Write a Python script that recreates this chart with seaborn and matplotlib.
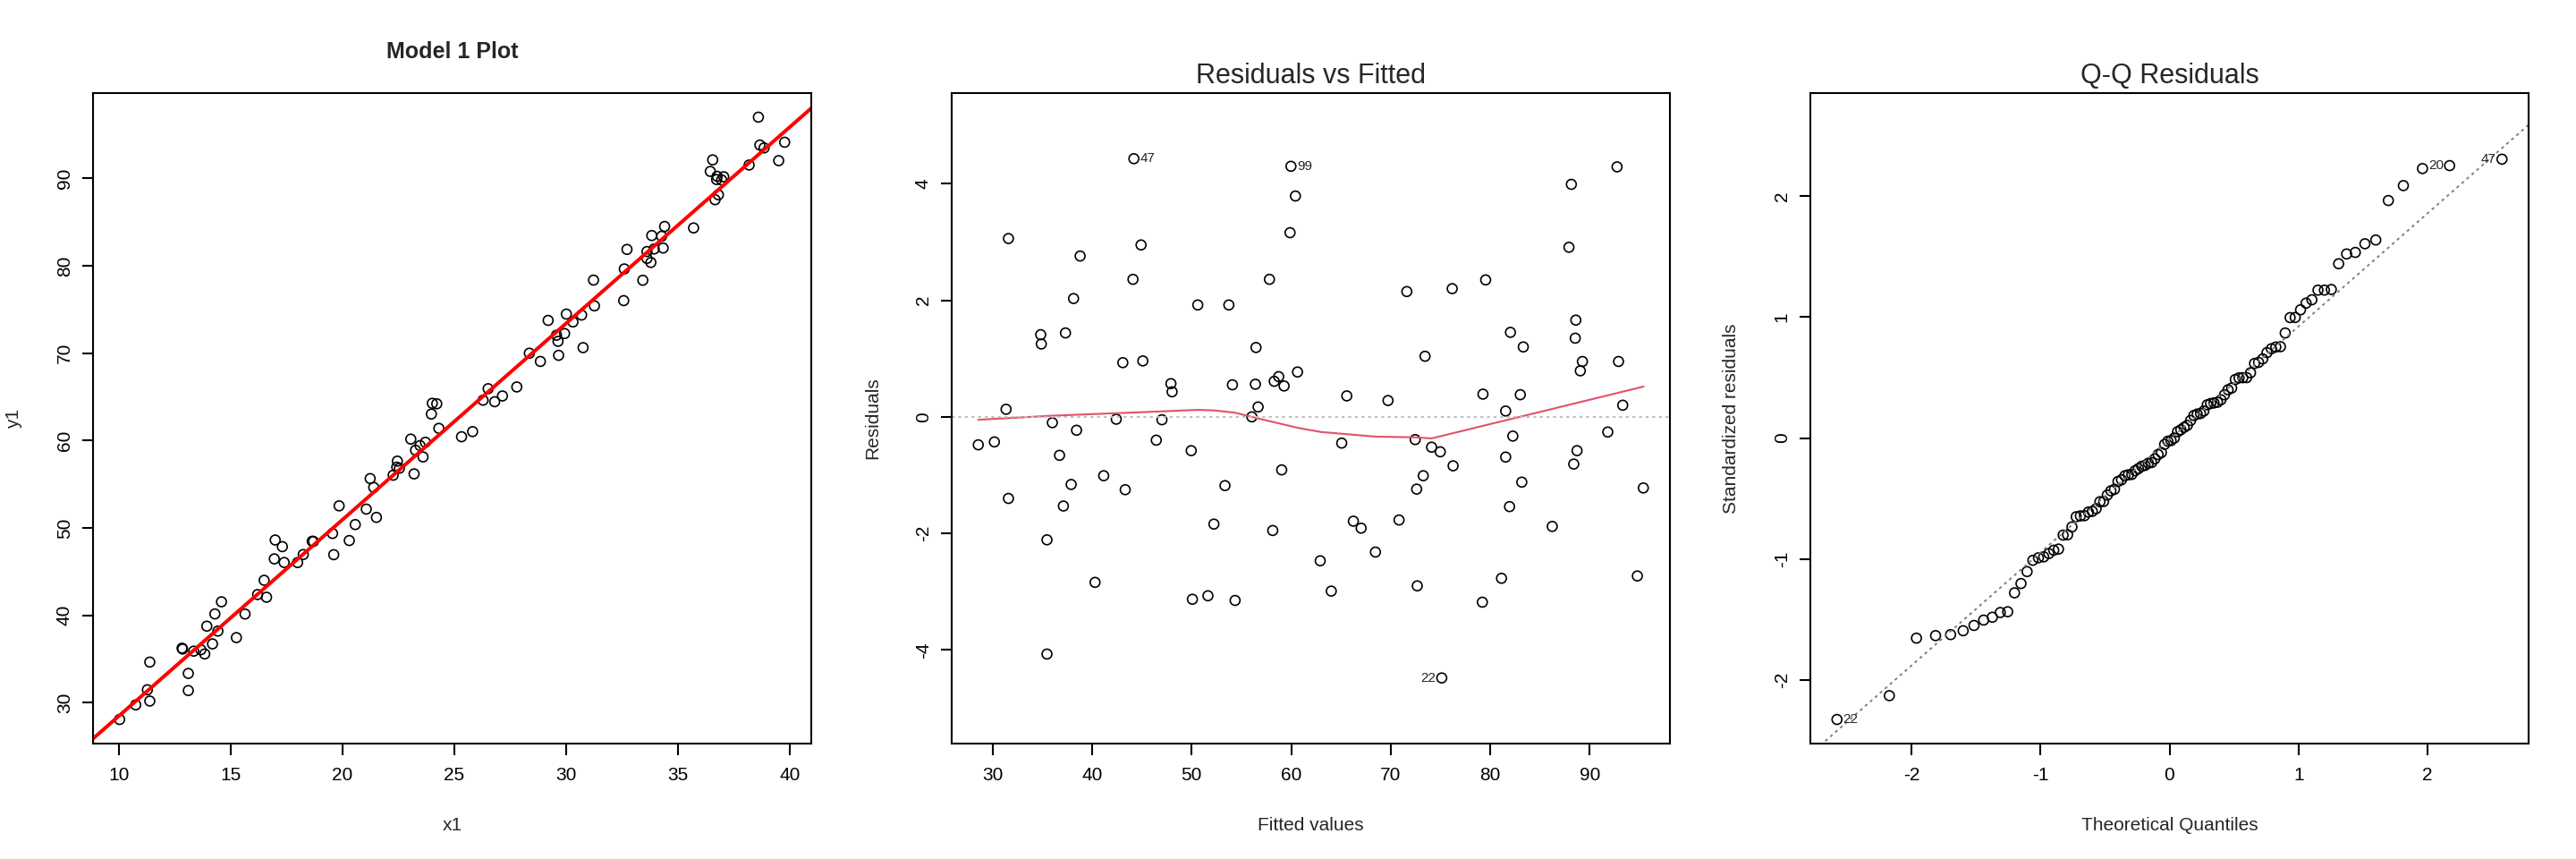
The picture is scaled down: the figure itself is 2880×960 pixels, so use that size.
import statistics

import numpy as np
import pandas as pd
import matplotlib
matplotlib.use("Agg")
import matplotlib.pyplot as plt
import seaborn as sns

# Residuals vs fitted.
# The first four points are the ones R labels: 47, 99, 22, 20
fitted = [
    44.19, 59.97, 75.12, 92.73,
    60.42, 31.59, 59.88, 44.91, 38.79, 44.10, 57.81, 38.13, 50.61, 53.73,
    34.83, 34.89, 37.32, 56.46, 43.08, 45.09, 60.63, 47.91, 48.03, 54.09,
    56.40, 58.29, 58.74, 59.28, 31.35, 56.67, 56.04, 36.00, 42.42, 47.01,
    38.43, 28.56, 30.18, 46.44, 49.95,
    36.72, 59.04, 41.16, 37.89, 53.34, 43.32, 31.59, 37.11, 52.23, 58.14,
    35.46, 40.29, 51.63, 50.07, 54.36, 35.46,
    88.14, 87.90, 79.53, 76.17, 71.61, 88.59, 82.02, 88.53, 83.31, 73.44,
    89.25, 89.04, 92.88, 65.58, 69.72, 79.26, 83.01, 81.54, 93.30, 65.07,
    72.45, 74.10, 82.26, 91.80,
    74.97, 88.71, 81.54, 88.38, 76.26, 73.26, 83.16, 72.60, 95.37, 81.93,
    66.24, 67.02, 70.83, 86.22, 68.46, 62.91, 64.02, 72.66, 81.12, 79.20,
    94.77,
]
residuals = [
    4.43, 4.30, -4.48, 4.29,
    3.79, 3.06, 3.16, 2.95, 2.76, 2.36, 2.36, 2.03, 1.92, 1.92,
    1.41, 1.25, 1.44, 1.19, 0.93, 0.96, 0.77, 0.57, 0.43, 0.55,
    0.56, 0.61, 0.69, 0.53, 0.13, 0.17, 0.00, -0.10, -0.04, -0.05,
    -0.23, -0.48, -0.43, -0.40, -0.58,
    -0.66, -0.91, -1.01, -1.16, -1.18, -1.25, -1.40, -1.53, -1.84, -1.95,
    -2.11, -2.84, -3.07, -3.13, -3.15, -4.07,
    3.99, 2.91, 2.35, 2.20, 2.15, 1.66, 1.45, 1.35, 1.20, 1.04,
    0.95, 0.79, 0.95, 0.36, 0.28, 0.39, 0.38, 0.10, 0.20, -0.45,
    -0.39, -0.52, -0.33, -0.26,
    -0.60, -0.58, -0.69, -0.81, -0.84, -1.01, -1.12, -1.24, -1.22, -1.54,
    -1.79, -1.91, -1.77, -1.88, -2.32, -2.47, -2.99, -2.90, -2.77, -3.18,
    -2.73,
]
point_ids = ["47", "99", "22", "20"]

# red fitted line of the first panel (y1 = intercept + slope * x1)
intercept = 6.0
slope = 2.247

# red smoother in the middle panel
smooth_fitted = [28.56, 36.0, 45.0, 50.6, 52.3, 54.4, 56.0, 60.7, 63.0, 68.5, 72.3, 74.1, 95.4]
smooth_resid = [-0.05, 0.02, 0.08, 0.12, 0.11, 0.07, 0.0, -0.19, -0.26, -0.34, -0.35, -0.37, 0.52]

# ticks
x1_ticks = [10, 15, 20, 25, 30, 35, 40]
y1_ticks = [30, 40, 50, 60, 70, 80, 90]
fit_ticks = [30, 40, 50, 60, 70, 80, 90]
res_ticks = [-4, -2, 0, 2, 4]
qq_ticks = [-2, -1, 0, 1, 2]

df = pd.DataFrame({"fitted": fitted, "resid": residuals})
df["x1"] = (df["fitted"] - intercept) / slope
df["y1"] = df["fitted"] + df["resid"]
n = len(df)

# standardized residuals and normal quantiles for the Q-Q panel
dx = df["x1"] - df["x1"].mean()
lev = 1 / n + dx ** 2 / (dx ** 2).sum()
sigma = np.sqrt((df["resid"] ** 2).sum() / (n - 2))
df["std_resid"] = df["resid"] / (sigma * np.sqrt(1 - lev))
nd = statistics.NormalDist()
ranks = df["std_resid"].rank(method="first").astype(int) - 1
df["theo"] = [nd.inv_cdf((r + 0.5) / n) for r in ranks]


def r_lim(v, ext_lo=0.0, ext_hi=0.0):
    lo, hi = float(np.min(v)), float(np.max(v))
    rng = hi - lo
    lo, hi = lo - rng * ext_lo, hi + rng * ext_hi
    pad = (hi - lo) * 0.04
    return lo - pad, hi + pad


sns.set_style("white")
plt.rcParams["font.family"] = ["Liberation Sans", "DejaVu Sans"]
plt.rcParams["axes.unicode_minus"] = False

W, H = 2880, 960
fig = plt.figure(figsize=(28.8, 9.6), dpi=100)
axes = [fig.add_axes([(k * 960 + 104) / W, 129 / H, 803 / W, 727 / H]) for k in range(3)]

pt_kws = dict(marker="o", s=62, facecolor="none", edgecolor="black", linewidth=1.2, legend=False)


def style_axes(ax, xticks, yticks, xlabel, ylabel):
    for sp in ax.spines.values():
        sp.set_visible(True)
        sp.set_color("black")
        sp.set_linewidth(1.5)
    ax.set_xticks(xticks)
    ax.set_yticks(yticks)
    ax.tick_params(axis="both", direction="out", length=9, width=1.5,
                   labelsize=15, color="black", labelcolor="black")
    ax.tick_params(axis="x", pad=10, bottom=True, top=False)
    ax.tick_params(axis="y", pad=7, left=True, right=False, labelrotation=90)
    plt.setp(ax.get_yticklabels(), va="center")
    ax.set_xlabel(xlabel, fontsize=15)
    ax.set_ylabel(ylabel, fontsize=15)
    ax.xaxis.set_label_coords(0.5, -91 / 727)
    ax.xaxis.label.set_va("center")
    ax.yaxis.set_label_coords(-88 / 803, 0.5)
    ax.yaxis.label.set_va("center")


def label_points(ax, xs, ys, idx):
    mid = (np.min(xs) + np.max(xs)) / 2
    for i in idx:
        lab = point_ids[i] if i < len(point_ids) else str(i + 1)
        right = xs[i] < mid
        ax.annotate(lab, (xs[i], ys[i]), xytext=(5 if right else -5, 0),
                    textcoords="offset points", ha="left" if right else "right",
                    va="center", fontsize=11)


# Model 1 plot
ax = axes[0]
sns.scatterplot(data=df, x="x1", y="y1", ax=ax, **pt_kws)
xlim0 = r_lim(df["x1"])
ax.set_xlim(xlim0)
sns.regplot(data=df, x="x1", y="y1", ax=ax, scatter=False, ci=None, truncate=False,
            color="red", line_kws={"linewidth": 2.9})
ax.set_xlim(xlim0)
ax.set_ylim(r_lim(df["y1"]))
style_axes(ax, x1_ticks, y1_ticks, "x1", "y1")
ax.text(0.5, 1 + 39 / 727, "Model 1 Plot", transform=ax.transAxes, ha="center",
        va="baseline", fontsize=18, fontweight="bold")

# Residuals vs Fitted
ax = axes[1]
sns.scatterplot(data=df, x="fitted", y="resid", ax=ax, **pt_kws)
sns.lineplot(x=smooth_fitted, y=smooth_resid, ax=ax, sort=False, estimator=None,
             color="#DF536B", linewidth=1.5)
ax.axhline(0, color="#BEBEBE", linewidth=1.4, linestyle=(0, (1.7, 2.1)))
ax.set_xlim(r_lim(df["fitted"]))
ax.set_ylim(r_lim(df["resid"], 0.08, 0.08))
style_axes(ax, fit_ticks, res_ticks, "Fitted values", "Residuals")
top_res = np.argsort(-np.abs(df["resid"].values))[:3]
label_points(ax, df["fitted"].values, df["resid"].values, top_res)
ax.text(0.5, 1 + 11 / 727, "Residuals vs Fitted", transform=ax.transAxes, ha="center",
        va="baseline", fontsize=22)

# Q-Q Residuals
ax = axes[2]
sns.scatterplot(data=df, x="theo", y="std_resid", ax=ax, **pt_kws)
q_y = np.quantile(df["std_resid"], [0.25, 0.75])
q_x = np.array([nd.inv_cdf(0.25), nd.inv_cdf(0.75)])
qq_slope = (q_y[1] - q_y[0]) / (q_x[1] - q_x[0])
qq_int = q_y[0] - qq_slope * q_x[0]
xlim2 = r_lim(df["theo"])
line_x = np.array(xlim2)
sns.lineplot(x=line_x, y=qq_int + qq_slope * line_x, ax=ax, color="#7F7F7F",
             linewidth=1.4, linestyle=(0, (1.7, 2.1)))
ax.set_xlim(xlim2)
ax.set_ylim(r_lim(df["std_resid"], 0.0, 0.075))
style_axes(ax, qq_ticks, qq_ticks, "Theoretical Quantiles", "Standardized residuals")
top_std = np.argsort(-np.abs(df["std_resid"].values))[:3]
label_points(ax, df["theo"].values, df["std_resid"].values, top_std)
ax.text(0.5, 1 + 11 / 727, "Q-Q Residuals", transform=ax.transAxes, ha="center",
        va="baseline", fontsize=22)

fig.savefig("out.png", dpi=100, facecolor="white")
